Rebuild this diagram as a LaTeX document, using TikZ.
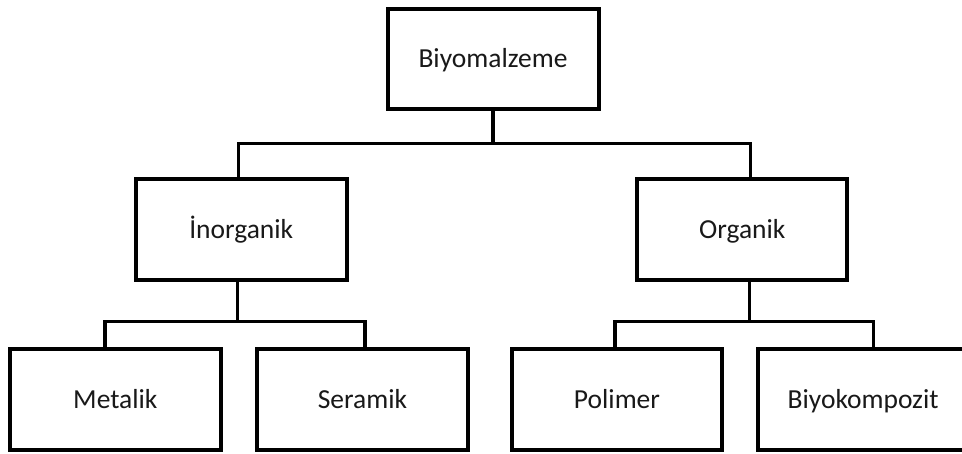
\documentclass[tikz,border=0pt]{standalone}
\usepackage{fontspec}
\setmainfont{Carlito}
\begin{document}
\begin{tikzpicture}[x=1pt,y=-1pt,
  boxnode/.style={draw=black, line width=4pt, rectangle, inner sep=0pt, outer sep=0pt,
    font=\fontsize{27.5pt}{30pt}\selectfont, text=black!90, text height=17.7pt, text depth=0pt},
  conn/.style={draw=black, line width=3.5pt}]
\useasboundingbox (0,0) rectangle (962,453);
\clip (0,0) rectangle (962,453);
\fill[white] (0,0) rectangle (962,453);
% boxes
\node[boxnode, minimum width=211pt, minimum height=99.5pt] (top) at (493,58.75) {Biyomalzeme};
\node[boxnode, minimum width=210.5pt, minimum height=101pt] (inorg) at (241.25,229.5) {İnorganik};
\node[boxnode, minimum width=210pt, minimum height=101pt] (org) at (742.3,229.5) {Organik};
\node[boxnode, minimum width=210.7pt, minimum height=101pt] (met) at (115.35,399.5) {Metalik};
\node[boxnode, minimum width=211.6pt, minimum height=101pt] (ser) at (362.5,399.5) {Seramik};
\node[boxnode, minimum width=209.4pt, minimum height=101pt] (pol) at (617,399.5) {Polimer};
\node[boxnode, minimum width=209.7pt, minimum height=101pt] (bio) at (863.15,399.5) {Biyokompozit};
% bus junctions
\coordinate (b1) at (493,143.3);
\coordinate (b2) at (237.3,321.7);
\coordinate (b3) at (749.3,321.7);
% connectors
\draw[conn] (top.south) -- (b1);
\draw[conn] ([xshift=-2.55pt]inorg.north) |- (b1) -| ([xshift=8.4pt]org.north);
\draw[conn] ([xshift=-3.95pt]inorg.south) -- (b2);
\draw[conn] ([xshift=-10.35pt]met.north) |- (b2) -| ([xshift=2.5pt]ser.north);
\draw[conn] ([xshift=7pt]org.south) -- (b3);
\draw[conn] ([xshift=-2pt]pol.north) |- (b3) -| ([xshift=10.15pt]bio.north);
\end{tikzpicture}
\end{document}
